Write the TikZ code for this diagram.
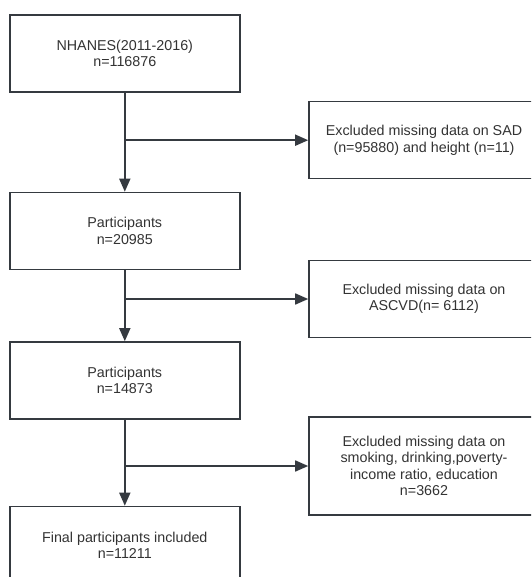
\documentclass[tikz,border=0pt]{standalone}
\usepackage{fontspec}
\setmainfont{Liberation Sans}
\usetikzlibrary{arrows.meta}
\definecolor{linegray}{HTML}{353A40}
\definecolor{textgray}{HTML}{333333}
\tikzset{
  flowbox/.style={draw=linegray, line width=1.6pt, minimum width=230pt, minimum height=77pt,
    align=center, text=textgray, font=\fontsize{14.3}{16.3}\selectfont, inner sep=0pt},
  flowarrow/.style={draw=linegray, line width=1.6pt, -{Triangle[length=13pt,width=11pt]}},
  flowline/.style={draw=linegray, line width=1.6pt}
}
\begin{document}
\begin{tikzpicture}[x=1pt,y=-1pt]
\useasboundingbox (0,0) rectangle (531,577);
\clip (0,0) rectangle (531,577);
\fill[white] (0,0) rectangle (531,577);
\node[flowbox] (b1) at (124.8,53.5) {NHANES(2011-2016)\\n=116876};
\node[flowbox] (b2) at (124.8,231) {Participants\\n=20985};
\node[flowbox] (b3) at (124.8,380.5) {Participants\\n=14873};
\node[flowbox] (b4) at (124.8,545) {Final participants included\\n=11211};
\node[flowbox] (r1) at (424,140.2) {Excluded missing data on SAD\\(n=95880) and height (n=11)};
\node[flowbox] (r2) at (424,299) {Excluded missing data on\\ASCVD(n= 6112)};
\node[flowbox, minimum height=98pt] (r3) at (424,466) {Excluded missing data on\\smoking, drinking,poverty-\\income ratio, education\\n=3662};
\draw[flowarrow] (b1) -- (b2);
\draw[flowarrow] (b2) -- (b3);
\draw[flowarrow] (b3) -- (b4);
\coordinate (j1) at (b1.south |- r1.west);
\coordinate (j2) at (b2.south |- r2.west);
\coordinate (j3) at (b3.south |- r3.west);
\draw[flowarrow] (j1) -- (r1.west);
\draw[flowarrow] (j2) -- (r2.west);
\draw[flowarrow] (j3) -- (r3.west);
\end{tikzpicture}
\end{document}
